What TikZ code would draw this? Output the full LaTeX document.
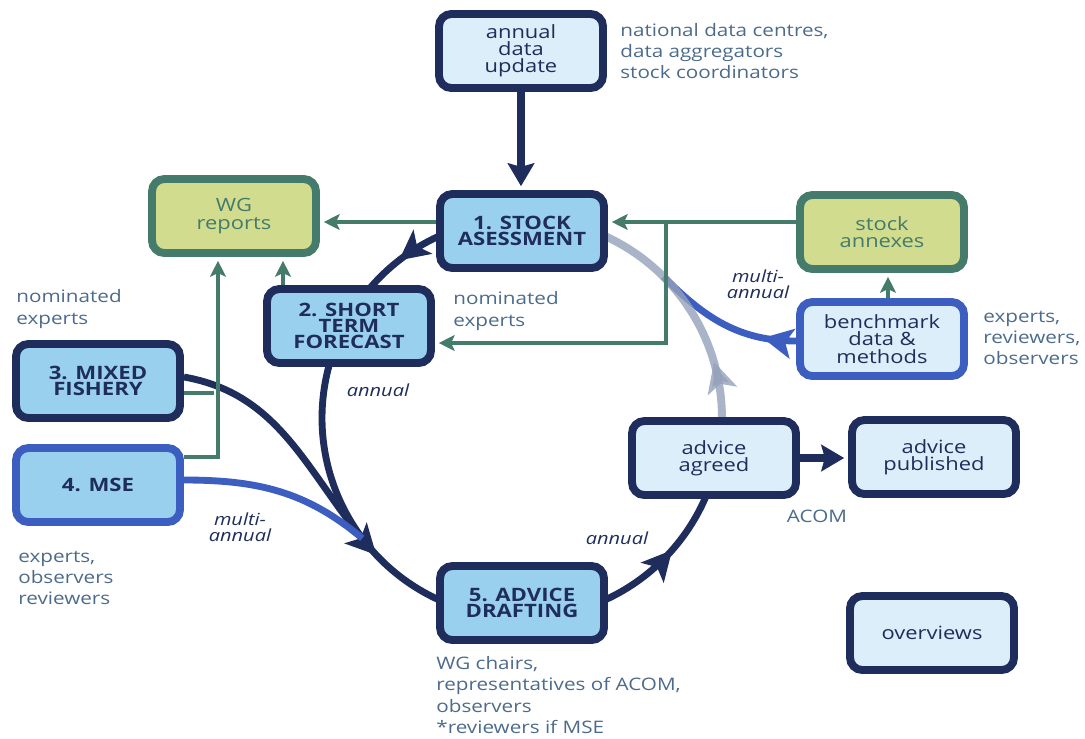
\documentclass[tikz,border=0pt]{standalone}
\usepackage{fontspec}
\setmainfont{Open Sans}[FakeStretch=1.2]
\usetikzlibrary{arrows.meta,decorations.markings,backgrounds}

\definecolor{navy}{HTML}{1F2D5C}
\definecolor{procfill}{HTML}{99D0EE}
\definecolor{lightfill}{HTML}{DCEEF9}
\definecolor{olivefill}{HTML}{D1DC8F}
\definecolor{wggreen}{HTML}{457B6B}
\definecolor{mseblue}{HTML}{3B5EC0}
\definecolor{sidetext}{HTML}{4C6B8C}
\definecolor{backarc}{HTML}{95A1BA}

\tikzstyle{box} = [rectangle, draw=navy, line width=4.5pt, rounded corners=7pt,
    minimum width=3.28cm, minimum height=1.48cm, text=navy, align=center,
    font=\fontsize{10.4}{9.8}\selectfont]
\tikzstyle{proc} = [box, fill=procfill, font=\fontsize{10.5}{9}\selectfont\bfseries]
\tikzstyle{info} = [box, fill=lightfill]
\tikzstyle{rep} = [box, draw=wggreen, fill=olivefill, text=wggreen]
\tikzstyle{who} = [text=sidetext, align=left, anchor=west, inner sep=0pt,
    font=\fontsize{9.8}{12}\selectfont]
\tikzstyle{freq} = [text=navy, align=center, inner sep=0pt,
    font=\fontsize{9.5}{9}\selectfont\itshape]
\tikzstyle{gline} = [draw=wggreen, line width=2pt, shorten >=2.2pt,
    -{Stealth[length=9pt,width=9pt,inset=2pt]}]
\tikzstyle{cyc} = [draw=navy, line width=3.9pt]
\tikzstyle{fat} = [draw=navy, line width=4pt, shorten >=2.2pt,
    -{Stealth[length=13pt,width=15pt,inset=2pt]}]
\tikzset{tipat/.style={postaction={decorate}, decoration={markings,
    mark=at position #1 with {\arrow{Stealth[length=17pt,width=17pt,inset=4pt]}}}}}

\begin{document}
\begin{tikzpicture}[x=0.02cm, y=-0.02cm]

  \useasboundingbox (0,0) rectangle (1085,738);

  % boxes
  \node[info]         (upd) at (521,51)  {annual\\data\\update};
  \node[proc]         (1)   at (522,231) {1. STOCK\\ASESSMENT};
  \node[rep]          (wg)  at (234,216) {WG\\reports};
  \node[rep]          (ann) at (882,232) {stock\\annexes};
  \node[proc]         (2)   at (349,326) {2. SHORT\\TERM\\FORECAST};
  \node[proc]         (3)   at (98,381)  {3. MIXED\\FISHERY};
  \node[proc, draw=mseblue] (4) at (98,485) {4. MSE};
  \node[info, draw=mseblue] (bm) at (882,339) {benchmark\\data \&\\methods};
  \node[info]         (agr) at (714,458) {advice\\agreed};
  \node[info]         (pub) at (934,457) {advice\\published};
  \node[proc]         (5)   at (522,603) {5. ADVICE\\DRAFTING};
  \node[info]         (ov)  at (932,633) {overviews};

  % who takes part
  \node[who] (w1) at (620,51)  {national data centres,\\data aggregators\\stock coordinators};
  \node[who] (w2) at (16,309)  {nominated\\experts};
  \node[who] (w3) at (453,311) {nominated\\experts};
  \node[who] (w4) at (983,338) {experts,\\reviewers,\\observers};
  \node[who] (w5) at (18,578)  {experts,\\observers\\reviewers};
  \node[who, anchor=center] (w6) at (817,516) {ACOM};
  \node[who] (w7) at (436,695) {WG chairs,\\representatives of ACOM,\\observers\\*reviewers if MSE};

  % how often
  \node[freq] (f1) at (378,390) {annual};
  \node[freq] (f2) at (617,538) {annual};
  \node[freq] (f3) at (758,284) {multi-\\annual};
  \node[freq] (f4) at (240,527) {multi-\\annual};

  \coordinate (hub) at (522,418);
  \coordinate (m1) at ([shift={(220:4cm)}]hub);
  \coordinate (m2) at ([shift={(217:4cm)}]hub);
  \coordinate (m3) at ([shift={(45:4cm)}]hub);
  \coordinate (g1) at (666,222);
  \coordinate (g2) at (666,343);
  \coordinate (g3) at (283,300);
  \coordinate (g4) at (218,457);
  \coordinate (g5) at (218,393);
  \coordinate (g6) at (888,300);

  \begin{scope}[on background layer]
    % the yearly cycle
    \draw[cyc, tipat=0.57] ([shift={(112:4cm)}]hub) arc[start angle=112, end angle=140, radius=4cm];
    \draw[cyc, tipat=0.71] ([shift={(165:4cm)}]hub) arc[start angle=165, end angle=247, radius=4cm];
    \draw[cyc, tipat=0.58] ([shift={(292:4cm)}]hub) arc[start angle=292, end angle=338, radius=4cm];
    \draw[cyc] ([yshift=0.08cm]3.east) to[out=-10, in=130] (m1);
    \draw[cyc, draw=mseblue] ([yshift=0.1cm]4.east) to[out=0, in=140] (m2);
    \draw[cyc, draw=mseblue, tipat=0.22] ([yshift=-0.04cm]bm.west) to[out=180, in=-45] (m3);
    \draw[cyc, draw=backarc, line width=4.5pt, opacity=.8, tipat=0.3]
      ([shift={(-5:4cm)}]hub) arc[start angle=-5, end angle=66, radius=4cm];

    % reports and annexes
    \draw[gline] (g1 -| 1.west) -- (g1 -| wg.east);
    \draw[gline] (g1 -| ann.west) -- (g1 -| 1.east);
    \draw[gline] (g1) -- (g2) -- (g2 -| 2.east);
    \draw[gline] (g3 |- 2.north) -- (g3 |- wg.south);
    \draw[gline] (g4 -| 4.east) -- (g4) -- (g4 |- wg.south);
    \draw[gline, -] (g5 -| 3.east) -- (g5);
    \draw[gline] (g6 |- bm.north) -- (g6 |- ann.south);

    \draw[fat] (upd.south) -- (upd.south |- 1.north);
    \draw[fat] (agr.east) -- (agr.east -| pub.west);
  \end{scope}
\end{tikzpicture}
\end{document}
